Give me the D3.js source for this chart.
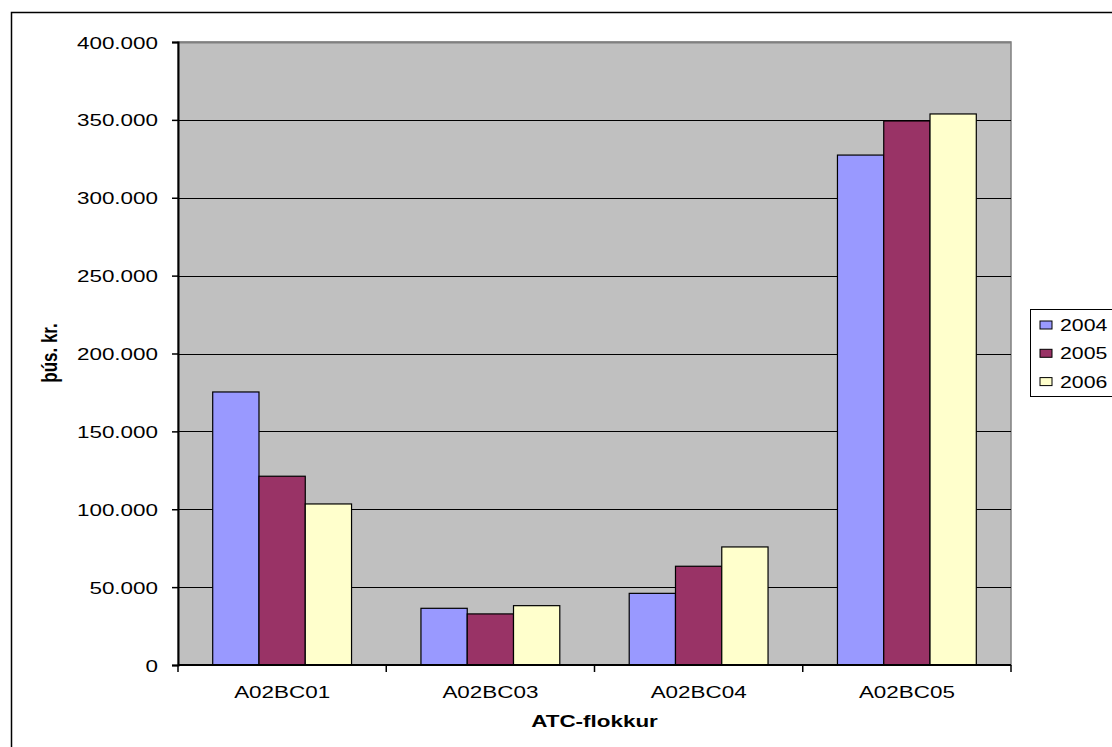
<!DOCTYPE html>
<html>
<head>
<meta charset="utf-8">
<script src="https://cdn.jsdelivr.net/npm/d3@7"></script>
<style>
html,body{margin:0;padding:0;background:#fff;}
svg{display:block;}
text{font-family:"Liberation Sans",Arial,sans-serif;fill:#000;}
</style>
</head>
<body>
<svg id="chart" width="1112" height="747"></svg>
<script>
const categories = ["A02BC01", "A02BC03", "A02BC04", "A02BC05"];
const seriesNames = ["2004", "2005", "2006"];
const values2004 = [175300, 36400, 46000, 327400];
const values2005 = [121200, 32800, 63400, 349300];
const values2006 = [103400, 38100, 75800, 353800];
const seriesColors = ["#9999FF", "#993366", "#FFFFCC"];
const yTicks = [0, 50000, 100000, 150000, 200000, 250000, 300000, 350000, 400000];
const yTitle = "þús. kr.";
const xTitle = "ATC-flokkur";

const seriesValues = [values2004, values2005, values2006];
const SX = 1.32;
const svg = d3.select("#chart");

const plot = {left: 178, right: 1011, top: 42, bottom: 665};

// outer chart border
svg.append("rect").attr("x", 11.5).attr("y", 12.5).attr("width", 1200).attr("height", 800)
  .attr("fill", "#fff").attr("stroke", "#000").attr("stroke-width", 1.5);

const x0 = d3.scaleBand().domain(categories).range([plot.left, plot.right]).paddingInner(0).paddingOuter(0);
const x1 = d3.scaleBand().domain(seriesNames).range([0, x0.bandwidth()]).paddingInner(0).paddingOuter(0.25);
// group of 3 bars with gap width 150% of bar -> outer padding 0.75 bar each side
x1.range([0, x0.bandwidth()]).paddingOuter(0.75);
const y = d3.scaleLinear().domain([0, 400000]).range([plot.bottom, plot.top]);

// plot area
svg.append("rect").attr("x", plot.left).attr("y", plot.top)
  .attr("width", plot.right - plot.left).attr("height", plot.bottom - plot.top)
  .attr("fill", "#C0C0C0").attr("stroke", "#808080").attr("stroke-width", 1.5);

// gridlines
svg.append("g").selectAll("line").data(yTicks.filter(d => d > 0)).join("line")
  .attr("x1", plot.left).attr("x2", plot.right)
  .attr("y1", d => Math.round(y(d)) + 0.5).attr("y2", d => Math.round(y(d)) + 0.5)
  .attr("stroke", d => d === 400000 ? "#808080" : "#000").attr("stroke-width", d => d === 400000 ? 2 : 1);

// bars
const groups = svg.append("g").selectAll("g").data(categories).join("g")
  .attr("transform", d => `translate(${x0(d)},0)`);
groups.selectAll("rect").data((c, ci) => seriesNames.map((s, si) => ({s, si, v: seriesValues[si][ci]}))).join("rect")
  .attr("x", d => x1(d.s)).attr("width", x1.bandwidth())
  .attr("y", d => y(d.v)).attr("height", d => y(0) - y(d.v))
  .attr("fill", d => seriesColors[d.si]).attr("stroke", "#000").attr("stroke-width", 1.2);

// y axis
const yAxis = d3.axisLeft(y).tickValues(yTicks).tickSize(6).tickPadding(14)
  .tickFormat(d => d === 0 ? "0" : d3.format(",")(d).replace(/,/g, "."));
const yg = svg.append("g").attr("transform", `translate(${plot.left},0)`).call(yAxis);
yg.select(".domain").attr("stroke", "#000").attr("stroke-width", 2);
yg.selectAll(".tick line").attr("stroke", "#000").attr("stroke-width", 1.5);
yg.selectAll(".tick text").attr("font-size", 17).attr("font-family", "Liberation Sans, Arial, sans-serif")
  .attr("dy", "0.36em")
  .each(function() {
    const t = d3.select(this);
    const xx = +t.attr("x");
    t.attr("x", null).attr("transform", `translate(${xx},0) scale(${SX},1)`);
  });

// x axis line
svg.append("line").attr("x1", plot.left).attr("x2", plot.right)
  .attr("y1", plot.bottom).attr("y2", plot.bottom).attr("stroke", "#000").attr("stroke-width", 2);
// x ticks at category boundaries
const boundaries = categories.map(c => x0(c)).concat([plot.right]);
svg.append("g").selectAll("line").data(boundaries).join("line")
  .attr("x1", d => d).attr("x2", d => d).attr("y1", plot.bottom).attr("y2", plot.bottom + 7)
  .attr("stroke", "#000").attr("stroke-width", 1.5);
// x labels
svg.append("g").selectAll("text").data(categories).join("text")
  .attr("transform", d => `translate(${x0(d) + x0.bandwidth() / 2},698) scale(${SX},1)`)
  .attr("text-anchor", "middle").attr("font-size", 17).text(d => d);

// axis titles
svg.append("text").attr("transform", `translate(${(plot.left + plot.right) / 2},727) scale(${SX},1)`)
  .attr("text-anchor", "middle").attr("font-size", 17).attr("font-weight", "bold").text(xTitle);
svg.append("text").attr("transform", `translate(57,353) scale(${SX},1) rotate(-90)`)
  .attr("text-anchor", "middle").attr("font-size", 17).attr("font-weight", "bold").text(yTitle);

// legend
const lg = svg.append("g");
lg.append("rect").attr("x", 1030.5).attr("y", 309.5).attr("width", 200).attr("height", 87)
  .attr("fill", "#fff").attr("stroke", "#000").attr("stroke-width", 1);
const items = lg.selectAll("g").data(seriesNames).join("g")
  .attr("transform", (d, i) => `translate(0,${325 + i * 28.3})`);
items.append("rect").attr("x", 1040).attr("y", -4).attr("width", 12).attr("height", 8)
  .attr("fill", (d, i) => seriesColors[i]).attr("stroke", "#000").attr("stroke-width", 1);
items.append("text").attr("transform", `translate(1060,6) scale(1.25,1)`)
  .attr("font-size", 17).text(d => d);
</script>
</body>
</html>
